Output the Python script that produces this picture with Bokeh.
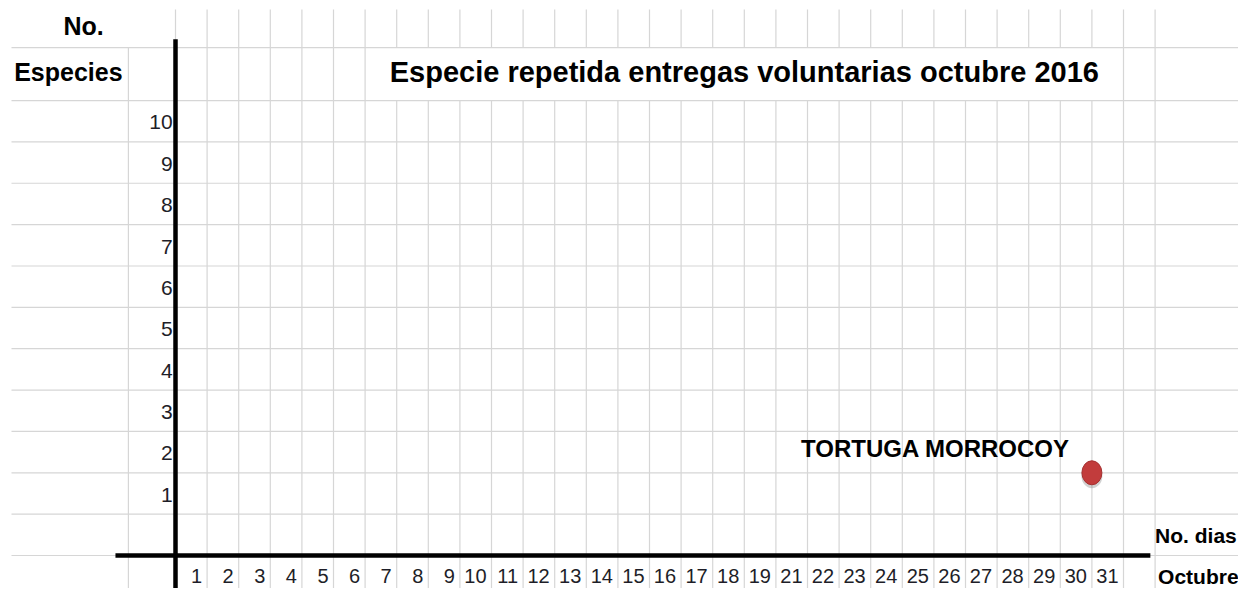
from bokeh.plotting import figure
from bokeh.models import Range1d, ColumnDataSource, Label
from bokeh.core.properties import value
from bokeh.transform import dodge
from bokeh.embed import file_html
from bokeh.resources import INLINE

# ---------------- data ----------------
days = [1, 2, 3, 4, 5, 6, 7, 8, 9, 10, 11, 12, 13, 14, 15, 16, 17, 18, 19,
        21, 22, 23, 24, 25, 26, 27, 28, 29, 30, 31]          # 20 is missing in the original
counts = [1, 2, 3, 4, 5, 6, 7, 8, 9, 10]
species_names = ["TORTUGA MORROCOY"]
species_days = [30]
species_counts = [2]

title_text = "Especie repetida entregas voluntarias octubre 2016"
y_title_lines = ["No.", "Especies"]
x_title_lines = ["No. dias", "Octubre"]

# ---------------- layout (spreadsheet geometry) ----------------
W, H = 1238, 588
COL_PX = 31.6          # width of one day column in px
ROW_PX = 41.36         # height of one count row in px
ORIGIN_X = 175         # px from left edge of canvas to the vertical axis
ORIGIN_Y = 33          # px from bottom edge of canvas to the horizontal axis

LABEL_COL = 1.49       # width (columns) of the y-label column
FIRST_COL = 3.70       # width (columns) of the leftmost column
TITLE_ROW = 1.28       # height (rows) of the title row
TOP_ROW = 0.92         # height (rows) of the top row
TITLE_C0, TITLE_C1 = 6, 30   # merged title cell spans these column boundaries
AXIS_TOP = 12.48
AXIS_LEFT, AXIS_RIGHT = -1.9, 30.85

BOLD_FONT = "Liberation Sans"
NUM_FONT = "Liberation Sans"
GRID_COLOR = "#d6d6d6"

x_range = Range1d(-ORIGIN_X / COL_PX, (W - ORIGIN_X) / COL_PX)
y_range = Range1d(-ORIGIN_Y / ROW_PX, (H - ORIGIN_Y) / ROW_PX)

p = figure(width=W, height=H, x_range=x_range, y_range=y_range,
           x_axis_type=None, y_axis_type=None, title=None,
           toolbar_location=None, output_backend="svg",
           min_border=0, outline_line_color=None,
           background_fill_color="white", border_fill_color="white")
p.grid.visible = False

# ---------------- spreadsheet grid ----------------
n_cols = len(days) + 1            # one extra empty column after 31
n_rows = len(counts) + 1
left_edge = -(LABEL_COL + FIRST_COL)
right_edge = x_range.end
bottom = y_range.start
header_line = n_rows + TITLE_ROW
top = header_line + TOP_ROW

x0, y0, x1, y1 = [], [], [], []
for r in list(range(-1, n_rows + 1)) + [header_line]:
    x0.append(left_edge); x1.append(right_edge); y0.append(r); y1.append(r)
x0.append(-LABEL_COL); x1.append(-LABEL_COL); y0.append(bottom); y1.append(header_line)
for c in range(0, n_cols + 1):
    if TITLE_C0 < c < TITLE_C1:
        x0 += [c, c]; x1 += [c, c]
        y0 += [bottom, header_line]; y1 += [n_rows, top]
    else:
        x0.append(c); x1.append(c); y0.append(bottom); y1.append(top)
p.segment(x0=x0, y0=y0, x1=x1, y1=y1, line_color=GRID_COLOR, line_width=1.2)

# ---------------- thick hand-drawn axes ----------------
p.segment(x0=[0], y0=[bottom], x1=[0], y1=[AXIS_TOP], line_color="black", line_width=4.5)
p.segment(x0=[AXIS_LEFT], y0=[0], x1=[AXIS_RIGHT], y1=[0], line_color="black", line_width=4.5)

# ---------------- tick labels ----------------
ysrc = ColumnDataSource(dict(x=[-0.09] * len(counts), y=[c + 0.47 for c in counts],
                             t=[str(c) for c in counts]))
p.text(x="x", y="y", text="t", source=ysrc, text_align="right", text_baseline="middle",
       text_font=value(NUM_FONT), text_font_size="21px", text_color="#1e1e28")

xsrc = ColumnDataSource(dict(x=[i + 1 - 5 / COL_PX for i in range(len(days))],
                             y=[-0.5] * len(days), t=[str(d) for d in days]))
p.text(x="x", y="y", text="t", source=xsrc, text_align="right", text_baseline="middle",
       text_font=value(NUM_FONT), text_font_size="20px", text_color="#1e1e28")

# ---------------- the point ----------------
pt = ColumnDataSource(dict(x=[days.index(d) + 1 for d in species_days],
                           y=species_counts, name=species_names))
p.ellipse(x="x", y=dodge("y", -3 / ROW_PX), width=21, height=25, width_units="screen",
          height_units="screen", source=pt, fill_color="#7a7a7a", fill_alpha=0.35, line_color=None)
p.ellipse(x="x", y="y", width=20, height=24, width_units="screen", height_units="screen",
          source=pt, fill_color="#c23c3c", line_color="#a53030", line_width=1)
p.text(x="x", y="y", text="name", source=pt, x_offset=-22, y_offset=-24,
       text_align="right", text_baseline="middle", text_font=value(BOLD_FONT),
       text_font_style="bold", text_font_size="24px", text_color="black")

# ---------------- titles ----------------
p.add_layout(Label(x=(TITLE_C0 + TITLE_C1) / 2, y=n_rows + TITLE_ROW / 2 + 0.05, text=title_text,
                   text_align="center", text_baseline="middle", text_font=BOLD_FONT,
                   text_font_style="bold", text_font_size="29px", text_color="black"))
p.add_layout(Label(x=-2.91, y=header_line + TOP_ROW / 2 + 0.07, text=y_title_lines[0],
                   text_align="center", text_baseline="middle", text_font=BOLD_FONT,
                   text_font_style="bold", text_font_size="25px", text_color="black"))
p.add_layout(Label(x=-3.39, y=n_rows + TITLE_ROW / 2 + 0.05, text=y_title_lines[1],
                   text_align="center", text_baseline="middle", text_font=BOLD_FONT,
                   text_font_style="bold", text_font_size="25px", text_color="black"))
p.add_layout(Label(x=n_cols, y=0.48, x_offset=0, text=x_title_lines[0],
                   text_align="left", text_baseline="middle", text_font=BOLD_FONT,
                   text_font_style="bold", text_font_size="21px", text_color="black"))
p.add_layout(Label(x=n_cols, y=-0.5, x_offset=3, text=x_title_lines[1],
                   text_align="left", text_baseline="middle", text_font=BOLD_FONT,
                   text_font_style="bold", text_font_size="21px", text_color="black"))

open("out.html", "w").write(file_html(p, INLINE))
